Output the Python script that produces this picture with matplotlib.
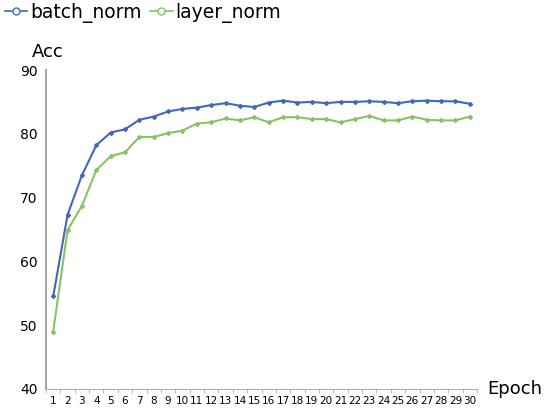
import matplotlib
matplotlib.use("Agg")
import matplotlib.pyplot as plt
from matplotlib.lines import Line2D

epochs = list(range(1, 31))
batch_norm = [54.5, 67.3, 73.5, 78.2, 80.2, 80.7, 82.2, 82.7, 83.5, 83.9,
              84.1, 84.5, 84.8, 84.4, 84.2, 84.9, 85.2, 84.9, 85.0, 84.8,
              85.0, 85.0, 85.1, 85.0, 84.8, 85.1, 85.2, 85.1, 85.1, 84.7]
layer_norm = [49.0, 64.9, 68.7, 74.3, 76.5, 77.1, 79.5, 79.5, 80.1, 80.5,
              81.6, 81.8, 82.4, 82.1, 82.6, 81.8, 82.6, 82.6, 82.3, 82.3,
              81.8, 82.3, 82.8, 82.1, 82.1, 82.7, 82.2, 82.1, 82.1, 82.7]
y_ticks = [40, 50, 60, 70, 80, 90]

blue = "#4367bf"
green = "#86c463"

fig = plt.figure(figsize=(5.5, 4.08), dpi=100)
ax = fig.add_axes([46 / 550, 19 / 408, (477 - 46) / 550, (389 - 70) / 408])

ax.plot(epochs, batch_norm, color=blue, lw=1.5, marker="D", ms=2)
ax.plot(epochs, layer_norm, color=green, lw=1.5, marker="D", ms=2)

ax.set_xlim(0.5, 30.5)
ax.set_ylim(40, 90)
ax.set_yticks(y_ticks)
ax.set_xticks(epochs)
ax.set_xticklabels([str(e) for e in epochs], fontsize=7.5)
ax.set_xticks([e + 0.5 for e in range(0, 31)], minor=True)
ax.tick_params(axis="x", which="major", length=0, pad=5)
ax.tick_params(axis="x", which="minor", length=3, color="#b0b0b0", direction="out")
ax.tick_params(axis="y", length=0, labelsize=10, pad=6)

for s in ["top", "right"]:
    ax.spines[s].set_visible(False)
ax.spines["left"].set_color("#a6a6a6")
ax.spines["bottom"].set_color("#b0b0b0")
ax.spines["left"].set_linewidth(1.5)

fig.text(32 / 550, 1 - 52 / 408, "Acc", fontsize=13, va="center", ha="left")
fig.text(487 / 550, 1 - 389 / 408, "Epoch", fontsize=13, va="center", ha="left")

handles = [
    Line2D([], [], color=blue, marker="o", mfc="white", ms=5, lw=1.2),
    Line2D([], [], color=green, marker="o", mfc="white", ms=5, lw=1.2),
]
fig.legend(handles, ["batch_norm", "layer_norm"], loc="upper left",
           bbox_to_anchor=(-0.022, 1.035), ncol=2, frameon=False, fontsize=13.5,
           handlelength=1.2, handletextpad=0.15, columnspacing=0.45)

fig.savefig("out.png", dpi=100)
